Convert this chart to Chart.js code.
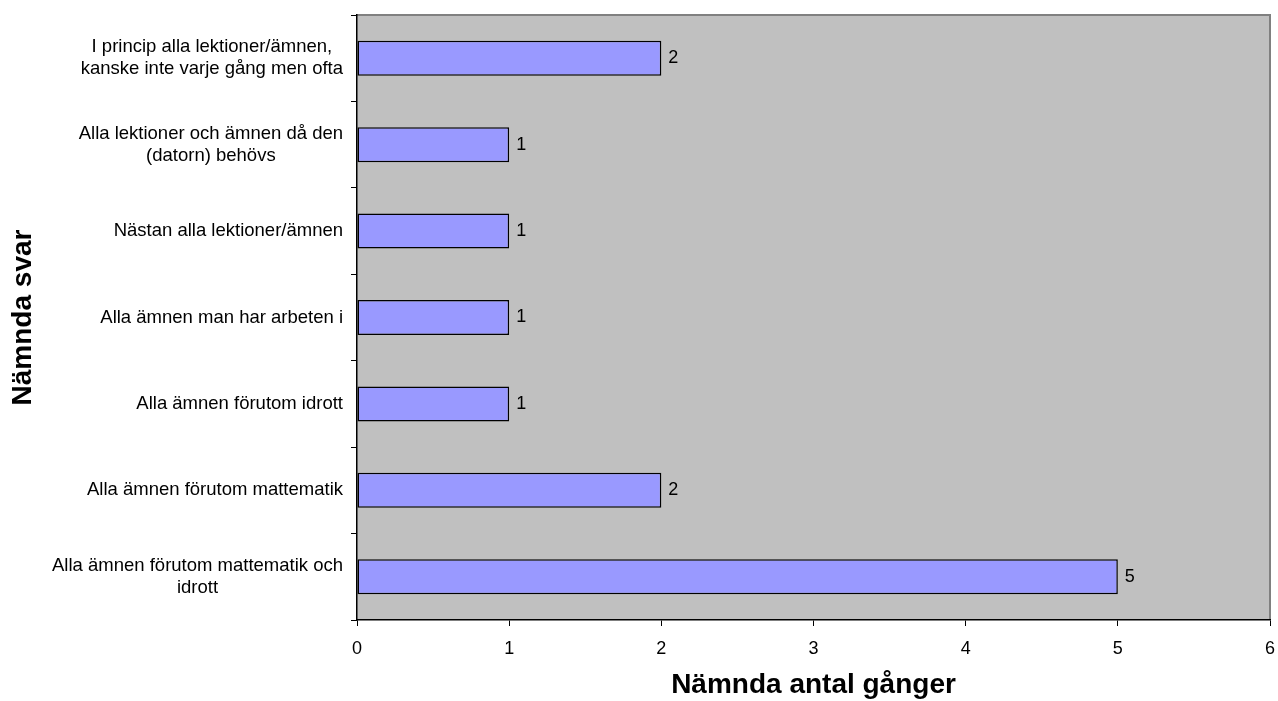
<!DOCTYPE html>
<html>
<head>
<meta charset="utf-8">
<script src="https://cdn.jsdelivr.net/npm/chart.js@4.4.1/dist/chart.umd.min.js"></script>
<style>
  html, body { margin: 0; padding: 0; background: #ffffff; }
  canvas { display: block; }
</style>
</head>
<body>
<canvas id="c" width="1278" height="701"></canvas>
<script>
// Svarskategorier, uppifrån och ned
const categories = [
  ["I princip alla lektioner/ämnen,", "kanske inte varje gång men ofta"],
  ["Alla lektioner och ämnen då den", "(datorn) behövs"],
  ["Nästan alla lektioner/ämnen"],
  ["Alla ämnen man har arbeten i "],
  ["Alla ämnen förutom idrott"],
  ["Alla ämnen förutom mattematik"],
  ["Alla ämnen förutom mattematik och", "idrott"]
];
// Antal gånger varje svar nämndes
const counts = [2, 1, 1, 1, 1, 2, 5];
const xTicks = [0, 1, 2, 3, 4, 5, 6];
const xTitle = "Nämnda antal gånger";
const yTitle = "Nämnda svar";

const FONT = "'Liberation Sans', Arial, sans-serif";

// Grå bakgrund och ram runt ritytan
const plotBackground = {
  id: 'plotBackground',
  beforeDraw(chart) {
    const { ctx, chartArea: a } = chart;
    ctx.save();
    ctx.fillStyle = '#c0c0c0';
    ctx.fillRect(a.left, a.top, a.right - a.left, a.bottom - a.top);
    ctx.strokeStyle = '#808080';
    ctx.lineWidth = 2;
    ctx.beginPath();
    ctx.moveTo(a.left, a.top);
    ctx.lineTo(a.right, a.top);
    ctx.lineTo(a.right, a.bottom);
    ctx.stroke();
    ctx.restore();
  }
};

// Kategorietiketter: blocket högerjusterat, raderna centrerade inbördes
const categoryLabels = {
  id: 'categoryLabels',
  afterDraw(chart) {
    const { ctx } = chart;
    const y = chart.scales.y;
    const rightEdge = y.right - 14;
    const lineH = 22;
    ctx.save();
    ctx.font = '18.5px ' + FONT;
    ctx.fillStyle = '#000';
    ctx.textAlign = 'center';
    ctx.textBaseline = 'middle';
    categories.forEach((lines, i) => {
      const cy = y.getPixelForValue(i);
      const w = Math.max(...lines.map(l => ctx.measureText(l.trimEnd()).width));
      const cx = rightEdge - w / 2;
      lines.forEach((l, k) => {
        const ly = cy + (k - (lines.length - 1) / 2) * lineH;
        ctx.fillText(l.trimEnd(), cx, ly);
      });
    });
    ctx.restore();
  }
};

// Värdeetiketter vid staplarnas ände
const valueLabels = {
  id: 'valueLabels',
  afterDatasetsDraw(chart) {
    const { ctx } = chart;
    const meta = chart.getDatasetMeta(0);
    ctx.save();
    ctx.font = '18px ' + FONT;
    ctx.fillStyle = '#000';
    ctx.textAlign = 'left';
    ctx.textBaseline = 'middle';
    meta.data.forEach((bar, i) => {
      ctx.fillText(String(counts[i]), bar.x + 7, bar.y);
    });
    ctx.restore();
  }
};

new Chart(document.getElementById('c'), {
  type: 'bar',
  data: {
    labels: categories.map(c => c.join(' ')),
    datasets: [{
      data: counts,
      backgroundColor: '#9999ff',
      borderColor: '#000000',
      borderWidth: 1.5,
      borderSkipped: false,
      categoryPercentage: 1,
      barPercentage: 0.405
    }]
  },
  options: {
    indexAxis: 'y',
    responsive: false,
    animation: false,
    events: [],
    layout: { padding: { top: 15, right: 8, left: 0, bottom: 0 } },
    plugins: {
      legend: { display: false },
      tooltip: { enabled: false }
    },
    scales: {
      x: {
        type: 'linear',
        min: xTicks[0],
        max: xTicks[xTicks.length - 1],
        afterBuildTicks(scale) { scale.ticks = xTicks.map(v => ({ value: v })); },
        afterFit(scale) {
          scale.height = 81;
          scale.paddingLeft = 0;
          scale.paddingRight = 0;
        },
        grid: { drawOnChartArea: false, color: '#000', tickLength: 6, lineWidth: 1 },
        border: { color: '#000', width: 1.5 },
        ticks: {
          color: '#000',
          padding: 12,
          maxRotation: 0,
          font: { family: FONT, size: 18 }
        },
        title: {
          display: true,
          text: xTitle,
          color: '#000',
          font: { family: FONT, size: 28, weight: 'bold', lineHeight: 1 },
          padding: { top: 0, bottom: 2 }
        }
      },
      y: {
        type: 'category',
        afterFit(scale) {
          scale.width = 357;
          scale.paddingTop = 0;
          scale.paddingBottom = 0;
        },
        grid: { drawOnChartArea: false, color: '#000', tickLength: 6, offset: true, lineWidth: 1 },
        border: { color: '#000', width: 1.5 },
        ticks: { display: false },
        title: {
          display: true,
          text: yTitle,
          color: '#000',
          font: { family: FONT, size: 28, weight: 'bold', lineHeight: 1 },
          padding: { top: 9, bottom: 0 }
        }
      }
    }
  },
  plugins: [plotBackground, categoryLabels, valueLabels]
});
</script>
</body>
</html>
